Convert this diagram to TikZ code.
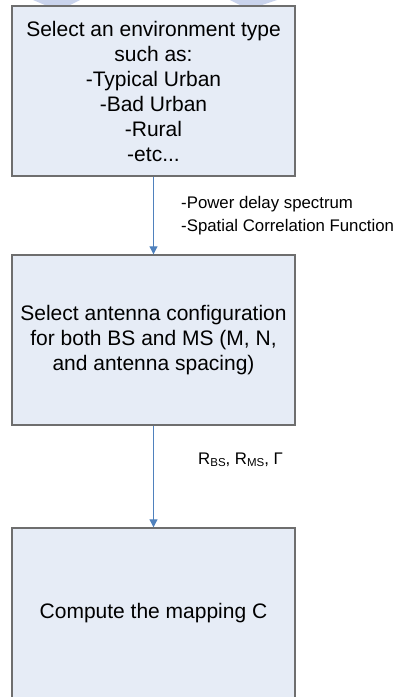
\documentclass[tikz,border=0pt]{standalone}
\usepackage{fontspec}
\setmainfont{Liberation Sans}
\usetikzlibrary{arrows.meta}
\definecolor{boxfill}{HTML}{E6ECF6}
\definecolor{boxline}{HTML}{6E6E6E}
\definecolor{flowblue}{HTML}{4F81BD}
\definecolor{markblue}{HTML}{C9D3EC}
\begin{document}
\begin{tikzpicture}[x=1pt,y=-1pt,
  stepbox/.style={draw=boxline,line width=1.4pt,fill=boxfill,
    minimum width=283pt,minimum height=170pt,inner sep=0pt,
    align=center,font=\fontsize{21}{25}\selectfont},
  flow/.style={draw=flowblue,line width=1pt,
    -{Triangle[width=8pt,length=8pt]}},
  note/.style={anchor=west,inner sep=0pt,align=left,
    font=\fontsize{16.8}{23}\selectfont}]
\useasboundingbox (0,0) rectangle (404,697);
% faint marks along the top edge
\fill[markblue] (33,0) -- (80,0) -- (70,5) -- (45,5) -- cycle;
\fill[markblue] (230,0) -- (277,0) -- (262,5) -- (240,5) -- cycle;
% process steps
\node[stepbox] (env) at (153.5,91) {Select an environment type\\such as:\\-Typical Urban\\-Bad Urban\\-Rural\\-etc...};
\node[stepbox] (ant) at (153.5,340) {Select antenna configuration\\for both BS and MS (M, N,\\and antenna spacing)};
\node[stepbox] (map) at (153.5,613) {Compute the mapping C};
% connectors
\draw[flow] (env.south) -- (ant.north);
\draw[flow] (ant.south) -- (map.north);
% connector annotations
\node[note] (pds) at (181,215.5) {-Power delay spectrum\\-Spatial Correlation Function};
\node[note] (corr) at (198,460) {R\raisebox{-1.5pt}{\fontsize{11.5}{11.5}\selectfont BS}, R\raisebox{-1.5pt}{\fontsize{11.5}{11.5}\selectfont MS}, Γ};
\end{tikzpicture}
\end{document}
